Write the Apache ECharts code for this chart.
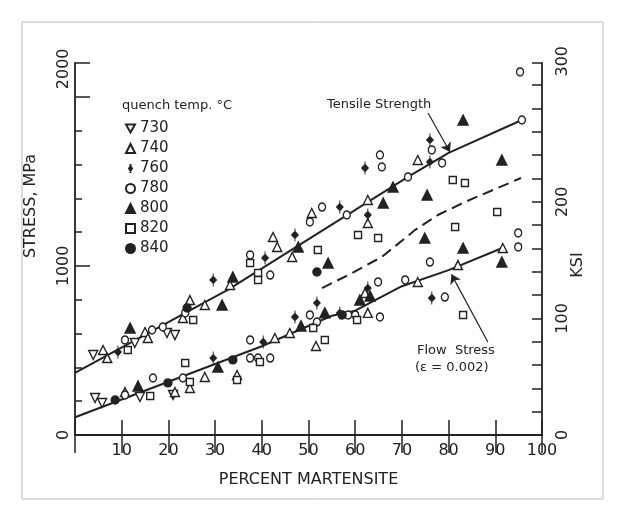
<!DOCTYPE html>
<html>
<head>
<meta charset="utf-8">
<script src="https://cdn.jsdelivr.net/npm/echarts@6/dist/echarts.min.js"></script>
<style>
html,body{margin:0;padding:0;background:#fff}
#chart{width:621px;height:524px}
</style>
</head>
<body>
<div id="chart"></div>
<script>
// percent martensite vs stress (MPa), by quench temperature
var s730 = [[3.9,473],[12.8,544],[19.7,603],[21.4,591],[4.3,219],[5.8,189],[13.9,225],[21.0,237]];
var s740 = [[6.0,503],[6.9,455],[15.0,609],[15.6,574],[23.1,692],[24.6,798],[27.8,769],[33.2,887],[42.4,1171],[43.3,1112],
  [46.5,1053],[50.7,1313],[62.7,1390],[62.7,1254],[73.4,1626],[10.7,254],[21.4,254],[24.6,278],[27.8,343],[34.7,355],
  [42.8,574],[46.0,603],[51.6,526],[62.1,840],[62.7,722],[73.4,905],[82.0,1005],[91.6,1106]];
var s760 = [[9.2,491],[29.6,917],[40.7,1047],[47.1,1183],[56.7,1348],[62.7,1301],[62.1,1579],[76.0,1745],[76.0,1615],
  [29.6,455],[40.3,550],[47.1,698],[51.8,781],[56.7,722],[62.7,869],[76.4,810]];
var s780 = [[10.7,562],[16.5,621],[18.8,639],[23.6,722],[37.5,1065],[41.8,946],[50.3,1260],[52.9,1348],[58.2,1301],
  [65.3,1656],[65.7,1585],[71.3,1526],[76.4,1686],[78.6,1609],[95.3,2147],[95.7,1863],[10.7,237],[16.7,337],[23.1,337],
  [37.5,562],[37.5,455],[39.2,455],[41.8,455],[50.3,710],[51.8,668],[58.5,710],[60.0,710],[64.9,905],[65.3,698],
  [70.7,917],[76.0,1023],[79.2,816],[94.9,1195],[94.9,1112]];
var s800 = [[11.8,633],[31.5,769],[33.8,934],[47.8,1112],[54.2,1017],[66.0,1372],[68.1,1467],[75.4,1419],[74.9,1165],
  [83.1,1863],[91.4,1626],[83.1,1106],[91.4,1023],[13.5,290],[30.6,402],[48.4,645],[53.5,722],[61.0,798],[63.2,822]];
var s820 = [[11.3,503],[25.3,680],[37.5,1017],[39.2,958],[39.2,917],[52.0,1094],[60.6,1183],[64.9,1165],[80.9,1508],
  [83.5,1490],[90.4,1319],[81.4,1230],[16.1,231],[23.6,426],[24.6,313],[34.7,325],[39.6,432],[51.0,633],[53.5,562],
  [60.4,680],[83.1,710]];
var s840 = [[24.0,751],[51.8,964],[8.6,207],[19.9,308],[33.8,444],[57.2,710]];

var tensileLine = [[0,367],[32.7,858],[71.3,1526],[80,1668],[95.7,1863]];
var flowLine = [[0,105],[20,315],[40,525],[55,705],[60,735],[70,880],[80,975],[91.5,1106]];
var dashLine = [[52.9,869],[58.5,946],[65.7,1053],[72.8,1212],[77.7,1301],[83.5,1378],[95.5,1520]];

var tensileArrow = [[75.6,1904],[80.3,1674]];
var flowArrow = [[88.4,550],[80.6,950]];

var MPA_PER_KSI = 6.894757;
var yMax = 2200;

var ink = '#222';
var diamondStem = 'path://M5,0 L5,24 M5,6 L9,12 L5,18 L1,12 Z';
var downTri = 'path://M0,0 L10,0 L5,9 Z';

function scatter(name, data, symbol, size, filled, rotate) {
  return {
    name: name,
    type: 'scatter',
    data: data,
    symbol: symbol,
    symbolSize: size,
    symbolRotate: rotate || 0,
    z: 3,
    itemStyle: {
      color: filled ? ink : '#fff',
      borderColor: ink,
      borderWidth: 1.4,
      opacity: 1
    }
  };
}

function lineSeries(data, dashed, arrow) {
  var s = {
    type: 'line',
    data: data,
    showSymbol: false,
    symbol: 'none',
    z: 2,
    silent: true,
    lineStyle: {color: ink, width: 2, type: dashed ? [11, 6] : 'solid'}
  };
  if (arrow) {
    s.markLine = {
      silent: true,
      symbol: ['none', 'arrow'],
      symbolSize: 9,
      label: {show: false},
      lineStyle: {color: ink, width: 1.2, type: 'solid'},
      data: [[{coord: arrow[0]}, {coord: arrow[1]}]]
    };
  }
  return s;
}

var chart = echarts.init(document.getElementById('chart'));
chart.setOption({
  animation: false,
  textStyle: {fontFamily: 'DejaVu Sans', color: ink},
  grid: {left: 75, top: 63, right: 79, bottom: 89},
  legend: {
    orient: 'vertical',
    left: 125,
    top: 121,
    padding: 0,
    itemWidth: 9,
    itemHeight: 9,
    itemGap: 5,
    textStyle: {fontSize: 15, color: ink},
    data: [
      {name: '730', icon: downTri},
      {name: '740', icon: 'triangle'},
      {name: '760', icon: diamondStem},
      {name: '780', icon: 'circle'},
      {name: '800', icon: 'triangle'},
      {name: '820', icon: 'rect'},
      {name: '840', icon: 'circle'}
    ]
  },
  xAxis: [{
    type: 'value', position: 'bottom', min: 0, max: 100, interval: 10,
    name: 'PERCENT MARTENSITE', nameLocation: 'middle', nameGap: 37,
    nameTextStyle: {fontSize: 16, color: ink},
    axisLine: {show: true, lineStyle: {color: ink, width: 1.8}},
    axisTick: {show: true, inside: true, length: 15, lineStyle: {color: ink, width: 1.5}},
    axisLabel: {fontSize: 16, color: ink, margin: 8, formatter: function (v) { return v === 0 ? '' : v; }},
    splitLine: {show: false}
  }, {
    type: 'value', position: 'top', min: 0, max: 100, interval: 10,
    axisLine: {show: true, lineStyle: {color: ink, width: 1.8}},
    axisTick: {show: true, inside: true, length: 18, lineStyle: {color: ink, width: 1.5}},
    axisLabel: {show: false},
    splitLine: {show: false}
  }],
  yAxis: [{
    type: 'value', position: 'left', min: 0, max: yMax, interval: 200,
    axisLine: {show: true, lineStyle: {color: ink, width: 1.8}},
    axisTick: {show: true, inside: true, length: 7, lineStyle: {color: ink, width: 1.5}},
    axisLabel: {
      fontSize: 16, color: ink, rotate: 90, margin: 3,
      formatter: function (v) {
        if (v === 2000) return '{up|2000}';
        return v % 1000 === 0 ? String(v) : '';
      },
      rich: {up: {fontSize: 16, color: ink, padding: [0, 0, 0, 56]}}
    },
    splitLine: {show: false}
  }, {
    type: 'value', position: 'left', min: 0, max: yMax, interval: 1000,
    axisLine: {show: false},
    axisTick: {show: true, inside: true, length: 15, lineStyle: {color: ink, width: 1.5}},
    axisLabel: {show: false},
    splitLine: {show: false}
  }, {
    type: 'value', position: 'right', min: 0, max: yMax / MPA_PER_KSI, interval: 20,
    axisLine: {show: true, lineStyle: {color: ink, width: 1.8}},
    axisTick: {show: true, inside: true, length: 10, lineStyle: {color: ink, width: 1.5}},
    axisLabel: {
      fontSize: 16, color: ink, rotate: 90, margin: 13,
      formatter: function (v) {
        if (v === 300) return '{up|300}';
        return (v % 100 === 0) ? String(v) : '';
      },
      rich: {up: {fontSize: 16, color: ink, padding: [0, 0, 0, 48]}}
    },
    splitLine: {show: false}
  }],
  graphic: [
    {type: 'rect', shape: {x: 22, y: 22, width: 581, height: 477}, style: {fill: 'none', stroke: '#bbb', lineWidth: 1}, silent: true},
    {type: 'text', x: 31, y: 206, rotation: Math.PI / 2, style: {text: 'STRESS, MPa', font: '16px "DejaVu Sans"', fill: ink, textAlign: 'center', textVerticalAlign: 'middle'}},
    {type: 'text', x: 578, y: 265, rotation: Math.PI / 2, style: {text: 'KSI', font: '16px "DejaVu Sans"', fill: ink, textAlign: 'center', textVerticalAlign: 'middle'}},
    {type: 'text', x: 122, y: 106, style: {text: 'quench temp. °C', font: '13px "DejaVu Sans"', fill: ink, textVerticalAlign: 'middle'}},
    {type: 'text', x: 327, y: 105, style: {text: 'Tensile Strength', font: '13px "DejaVu Sans"', fill: ink, textVerticalAlign: 'middle'}},
    {type: 'text', x: 417, y: 351, style: {text: 'Flow  Stress', font: '13px "DejaVu Sans"', fill: ink, textVerticalAlign: 'middle'}},
    {type: 'text', x: 415, y: 368, style: {text: '(ε = 0.002)', font: '13px "DejaVu Sans"', fill: ink, textVerticalAlign: 'middle'}}
  ],
  series: [
    lineSeries(tensileLine, false, tensileArrow),
    lineSeries(flowLine, false, flowArrow),
    lineSeries(dashLine, true),
    scatter('730', s730, 'triangle', 9, false, 180),
    scatter('740', s740, 'triangle', 9, false),
    scatter('760', s760, diamondStem, [6, 13], true),
    scatter('780', s780, 'circle', [7, 8], false),
    scatter('800', s800, 'triangle', 10, true),
    scatter('820', s820, 'rect', 7, false),
    scatter('840', s840, 'circle', 8, true)
  ]
});
</script>
</body>
</html>
